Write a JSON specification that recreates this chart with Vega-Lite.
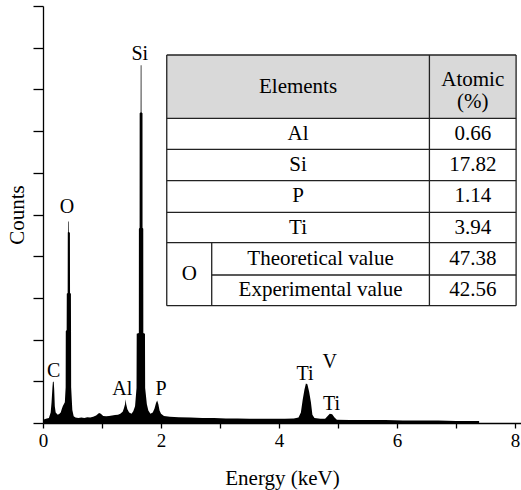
{
  "$schema": "https://vega.github.io/schema/vega-lite/v6.json",
  "width": 478,
  "height": 417,
  "autosize": "none",
  "padding": {"left": 43, "top": 6, "right": 0, "bottom": 67},
  "background": "white",
  "config": {
    "view": {"stroke": null},
    "font": "Liberation Serif",
    "axis": {
      "grid": false,
      "domainColor": "black",
      "tickColor": "black",
      "labelColor": "black",
      "titleColor": "black",
      "labelFont": "Liberation Serif",
      "titleFont": "Liberation Serif",
      "titleFontWeight": "normal",
      "domainWidth": 1.3,
      "tickWidth": 1.3
    }
  },
  "datasets": {
    "spectrum": [
      {"e": 0.0, "c": 0.08}, {"e": 0.05, "c": 0.1}, {"e": 0.1, "c": 0.12}, {"e": 0.13, "c": 0.25},
      {"e": 0.145, "c": 0.5}, {"e": 0.16, "c": 0.85}, {"e": 0.168, "c": 0.99}, {"e": 0.182, "c": 0.99},
      {"e": 0.19, "c": 0.8}, {"e": 0.2, "c": 0.4}, {"e": 0.215, "c": 0.25}, {"e": 0.25, "c": 0.2},
      {"e": 0.28, "c": 0.22}, {"e": 0.3, "c": 0.25}, {"e": 0.317, "c": 0.33}, {"e": 0.335, "c": 0.4},
      {"e": 0.37, "c": 0.5}, {"e": 0.384, "c": 0.86}, {"e": 0.386, "c": 2.2}, {"e": 0.401, "c": 2.23},
      {"e": 0.403, "c": 3.1}, {"e": 0.418, "c": 3.12}, {"e": 0.42, "c": 4.56}, {"e": 0.424, "c": 4.58},
      {"e": 0.425, "c": 4.83}, {"e": 0.435, "c": 4.83}, {"e": 0.436, "c": 4.58}, {"e": 0.456, "c": 4.56},
      {"e": 0.458, "c": 3.12}, {"e": 0.473, "c": 3.1}, {"e": 0.475, "c": 2.23}, {"e": 0.477, "c": 0.86},
      {"e": 0.49, "c": 0.5}, {"e": 0.497, "c": 0.31}, {"e": 0.52, "c": 0.16}, {"e": 0.55, "c": 0.13},
      {"e": 0.6, "c": 0.12}, {"e": 0.65, "c": 0.13}, {"e": 0.7, "c": 0.12}, {"e": 0.75, "c": 0.14},
      {"e": 0.8, "c": 0.13}, {"e": 0.85, "c": 0.15}, {"e": 0.9, "c": 0.18}, {"e": 0.95, "c": 0.24},
      {"e": 0.98, "c": 0.22}, {"e": 1.02, "c": 0.17}, {"e": 1.07, "c": 0.16}, {"e": 1.12, "c": 0.17},
      {"e": 1.17, "c": 0.18}, {"e": 1.22, "c": 0.19}, {"e": 1.27, "c": 0.2}, {"e": 1.31, "c": 0.22},
      {"e": 1.35, "c": 0.27}, {"e": 1.37, "c": 0.35}, {"e": 1.39, "c": 0.45}, {"e": 1.4, "c": 0.57},
      {"e": 1.41, "c": 0.45}, {"e": 1.43, "c": 0.33}, {"e": 1.46, "c": 0.25}, {"e": 1.5, "c": 0.22},
      {"e": 1.53, "c": 0.28}, {"e": 1.56, "c": 0.4}, {"e": 1.585, "c": 0.84}, {"e": 1.588, "c": 2.14},
      {"e": 1.624, "c": 2.16}, {"e": 1.625, "c": 4.66}, {"e": 1.637, "c": 4.68}, {"e": 1.638, "c": 7.43},
      {"e": 1.655, "c": 7.45}, {"e": 1.656, "c": 8.58}, {"e": 1.668, "c": 8.58}, {"e": 1.669, "c": 7.45},
      {"e": 1.686, "c": 7.43}, {"e": 1.687, "c": 4.68}, {"e": 1.699, "c": 4.66}, {"e": 1.7, "c": 2.16},
      {"e": 1.728, "c": 2.14}, {"e": 1.731, "c": 0.84}, {"e": 1.76, "c": 0.45}, {"e": 1.785, "c": 0.3},
      {"e": 1.82, "c": 0.22}, {"e": 1.86, "c": 0.25}, {"e": 1.89, "c": 0.35}, {"e": 1.915, "c": 0.48},
      {"e": 1.935, "c": 0.54}, {"e": 1.955, "c": 0.45}, {"e": 1.975, "c": 0.3}, {"e": 2.0, "c": 0.22},
      {"e": 2.05, "c": 0.17}, {"e": 2.15, "c": 0.15}, {"e": 2.3, "c": 0.14}, {"e": 2.5, "c": 0.13},
      {"e": 2.7, "c": 0.12}, {"e": 2.9, "c": 0.12}, {"e": 3.1, "c": 0.11}, {"e": 3.3, "c": 0.11},
      {"e": 3.5, "c": 0.1}, {"e": 3.7, "c": 0.1}, {"e": 3.9, "c": 0.1}, {"e": 4.1, "c": 0.1},
      {"e": 4.25, "c": 0.11}, {"e": 4.33, "c": 0.13}, {"e": 4.37, "c": 0.25}, {"e": 4.4, "c": 0.55},
      {"e": 4.43, "c": 0.8}, {"e": 4.455, "c": 0.95}, {"e": 4.48, "c": 0.93}, {"e": 4.51, "c": 0.75},
      {"e": 4.54, "c": 0.5}, {"e": 4.565, "c": 0.2}, {"e": 4.6, "c": 0.12}, {"e": 4.7, "c": 0.1},
      {"e": 4.78, "c": 0.1}, {"e": 4.82, "c": 0.16}, {"e": 4.86, "c": 0.22}, {"e": 4.9, "c": 0.21},
      {"e": 4.94, "c": 0.13}, {"e": 4.98, "c": 0.08}, {"e": 5.2, "c": 0.07}, {"e": 5.5, "c": 0.07},
      {"e": 5.8, "c": 0.07}, {"e": 6.1, "c": 0.06}, {"e": 6.4, "c": 0.06}, {"e": 6.7, "c": 0.06},
      {"e": 7.0, "c": 0.05}, {"e": 7.39, "c": 0.05}
    ],
    "header": [{"e": 2.097, "e2": 8.017, "c": 7.307, "c2": 8.825}],
    "body": [{"e": 2.097, "e2": 8.017, "c": 2.813, "c2": 7.307}],
    "lines": [
      {"e": 2.097, "e2": 8.017, "c": 8.825, "c2": 8.825},
      {"e": 2.097, "e2": 8.017, "c": 7.307, "c2": 7.307},
      {"e": 2.097, "e2": 8.017, "c": 6.563, "c2": 6.563},
      {"e": 2.097, "e2": 8.017, "c": 5.811, "c2": 5.811},
      {"e": 2.097, "e2": 8.017, "c": 5.053, "c2": 5.053},
      {"e": 2.097, "e2": 8.017, "c": 4.324, "c2": 4.324},
      {"e": 2.859, "e2": 8.017, "c": 3.549, "c2": 3.549},
      {"e": 2.097, "e2": 8.017, "c": 2.813, "c2": 2.813},
      {"e": 2.097, "e2": 2.097, "c": 2.813, "c2": 8.825},
      {"e": 8.017, "e2": 8.017, "c": 2.813, "c2": 8.825},
      {"e": 6.548, "e2": 6.548, "c": 2.813, "c2": 8.825},
      {"e": 2.859, "e2": 2.859, "c": 2.813, "c2": 4.324}
    ],
    "cells": [
      {"e": 4.322, "c": 8.065, "label": "Elements"},
      {"e": 7.283, "c": 8.235, "label": "Atomic"},
      {"e": 7.283, "c": 7.705, "label": "(%)"},
      {"e": 4.322, "c": 6.935, "label": "Al"},
      {"e": 7.283, "c": 6.935, "label": "0.66"},
      {"e": 4.322, "c": 6.187, "label": "Si"},
      {"e": 7.283, "c": 6.187, "label": "17.82"},
      {"e": 4.322, "c": 5.432, "label": "P"},
      {"e": 7.283, "c": 5.432, "label": "1.14"},
      {"e": 4.322, "c": 4.688, "label": "Ti"},
      {"e": 7.283, "c": 4.688, "label": "3.94"},
      {"e": 2.478, "c": 3.568, "label": "O"},
      {"e": 4.703, "c": 3.937, "label": "Theoretical value"},
      {"e": 7.283, "c": 3.937, "label": "47.38"},
      {"e": 4.703, "c": 3.18, "label": "Experimental value"},
      {"e": 7.283, "c": 3.18, "label": "42.56"}
    ],
    "peaks": [
      {"e": 1.639, "c": 8.705, "label": "Si"},
      {"e": 0.407, "c": 5.03, "label": "O"},
      {"e": 0.181, "c": 1.11, "label": "C"},
      {"e": 1.345, "c": 0.67, "label": "Al"},
      {"e": 2.0, "c": 0.67, "label": "P"},
      {"e": 4.44, "c": 1.03, "label": "Ti"},
      {"e": 4.86, "c": 1.33, "label": "V"},
      {"e": 4.89, "c": 0.31, "label": "Ti"}
    ]
  },
  "encoding": {
    "x": {
      "field": "e",
      "type": "quantitative",
      "scale": {"domain": [0, 8.1], "nice": false, "zero": false},
      "axis": {
        "title": "Energy (keV)",
        "values": [0, 1, 2, 3, 4, 5, 6, 7, 8],
        "labelExpr": "datum.value % 2 === 0 ? datum.label : ''",
        "labelFlush": false,
        "tickSize": 5,
        "labelFontSize": 19,
        "labelPadding": 3,
        "titleFontSize": 21,
        "titlePadding": 17
      }
    },
    "y": {
      "field": "c",
      "type": "quantitative",
      "scale": {"domain": [0, 10], "nice": false, "zero": false},
      "axis": {
        "title": "Counts",
        "values": [0, 1, 2, 3, 4, 5, 6, 7, 8, 9, 10],
        "labels": false,
        "tickSize": 10,
        "titleFontSize": 21,
        "titlePadding": 5
      }
    }
  },
  "layer": [
    {
      "data": {"name": "spectrum"},
      "mark": {"type": "area", "color": "black", "interpolate": "linear", "clip": true}
    },
    {
      "data": {"name": "header"},
      "mark": {"type": "rect", "fill": "#d9d9d9"},
      "encoding": {"x2": {"field": "e2"}, "y2": {"field": "c2"}}
    },
    {
      "data": {"name": "body"},
      "mark": {"type": "rect", "fill": "white"},
      "encoding": {"x2": {"field": "e2"}, "y2": {"field": "c2"}}
    },
    {
      "data": {"name": "lines"},
      "mark": {"type": "rule", "color": "#222222", "strokeWidth": 1.3},
      "encoding": {"x2": {"field": "e2"}, "y2": {"field": "c2"}}
    },
    {
      "data": {"name": "cells"},
      "mark": {"type": "text", "font": "Liberation Serif", "fontSize": 21, "color": "black", "align": "center", "baseline": "middle"},
      "encoding": {"text": {"field": "label"}}
    },
    {
      "data": {"name": "peaks"},
      "mark": {"type": "text", "font": "Liberation Serif", "fontSize": 20, "color": "black", "align": "center", "baseline": "alphabetic"},
      "encoding": {"text": {"field": "label"}}
    }
  ]
}
